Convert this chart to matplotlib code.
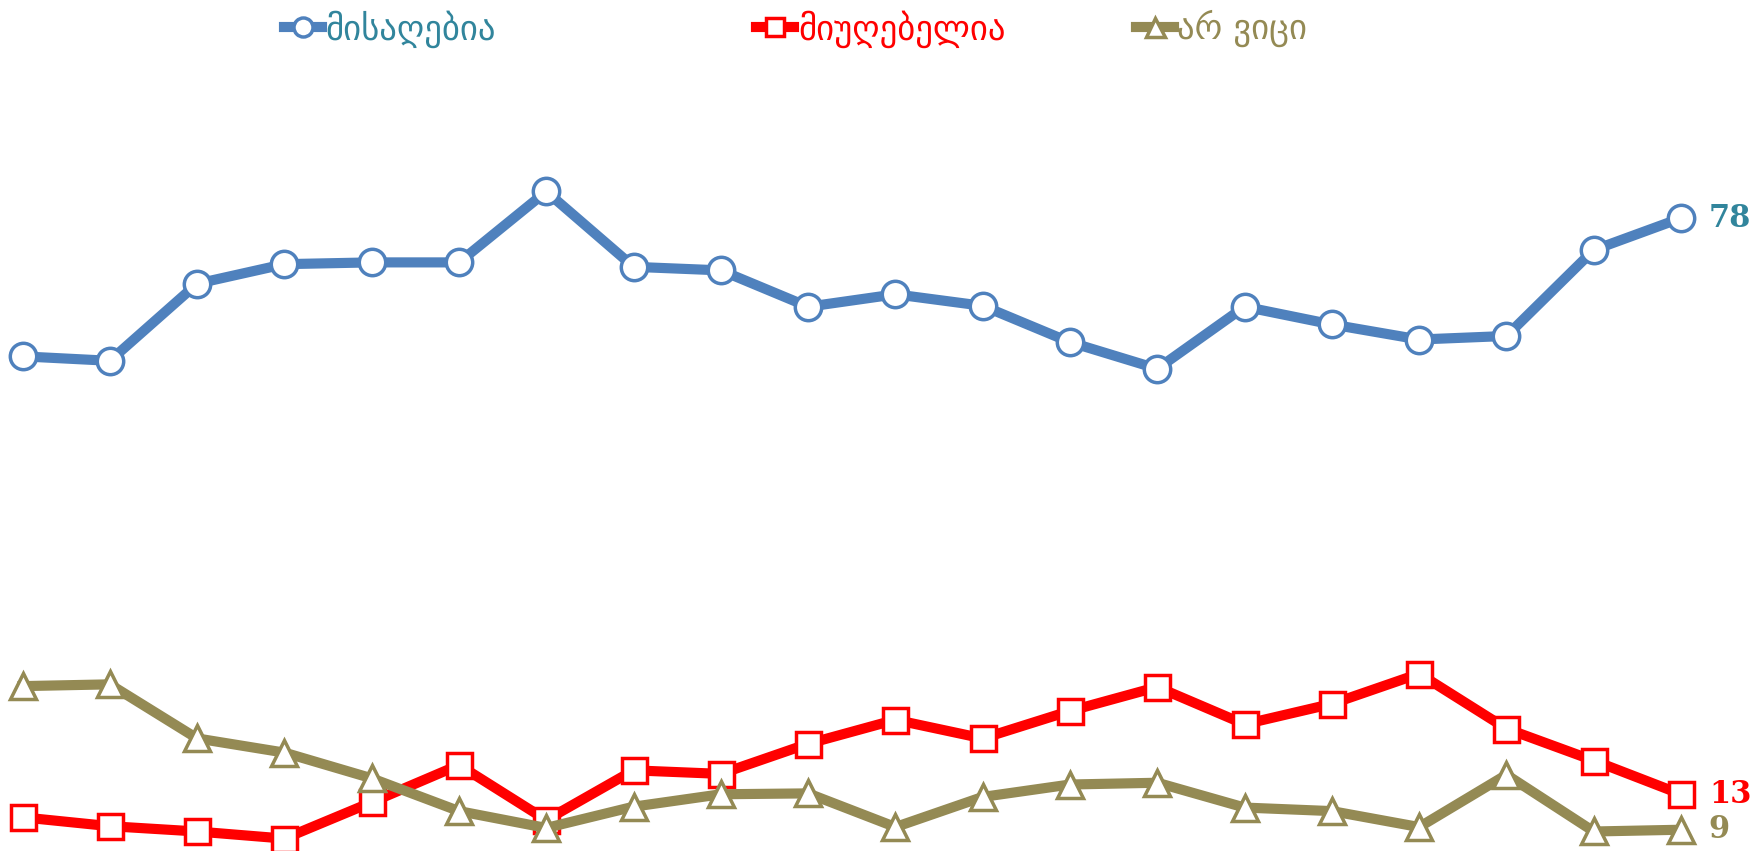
import matplotlib
matplotlib.use("Agg")
from matplotlib import pyplot as plt

# survey waves (20 points), values in percent
waves = list(range(20))
acceptable = [62.4, 61.9, 70.6, 72.8, 73.0, 73.0, 81.0, 72.5, 72.1, 68.0,
              69.4, 68.1, 64.0, 61.0, 68.0, 66.0, 64.3, 64.7, 74.4, 78]
unacceptable = [10.4, 9.4, 8.8, 8.0, 12.1, 16.3, 10.1, 15.7, 15.3, 18.7,
                21.4, 19.3, 22.4, 25.1, 20.9, 23.2, 26.6, 20.4, 16.8, 13]
dont_know = [25.2, 25.4, 19.3, 17.7, 14.8, 11.1, 9.2, 11.6, 13.0, 13.1,
             9.3, 12.7, 14.1, 14.3, 11.5, 11.1, 9.3, 15.2, 8.8, 9]

names = ['მისაღებია', 'მიუღებელია', 'არ ვიცი']
line_colors = ['#4F81BD', '#FF0000', '#948A54']
text_colors = ['#31859C', '#FF0000', '#948A54']
markers = ['o', 's', '^']
series = [acceptable, unacceptable, dont_know]

fig = plt.figure(figsize=(17.64, 8.51), dpi=100)
ax = fig.add_axes([0, 0, 1, 1])
ax.set_xlim(-0.258, 19.95)
ax.set_ylim(6.6, 102.6)
ax.axis('off')

lines = []
for vals, lc, mk in zip(series, line_colors, markers):
    ms = 19 if mk != 's' else 18
    ln, = ax.plot(waves, vals, '-', color=lc, lw=7.3, marker=mk, ms=ms,
                  mfc='white', mec=lc, mew=2.5, zorder=3, clip_on=False)
    lines.append(ln)

# end labels
for vals, tc in zip(series, text_colors):
    ax.annotate(str(int(vals[-1])), (waves[-1], vals[-1]), xytext=(20, 0),
                textcoords='offset points', va='center', ha='left',
                fontsize=22, fontweight='bold', family='DejaVu Serif', color=tc)

# legend, three separate pieces along the top
leg_x = [0.143, 0.411, 0.626]
for ln, name, tc, lx in zip(lines, names, text_colors, leg_x):
    leg = fig.legend([ln], [name], loc='upper left', bbox_to_anchor=(lx, 1.025),
                     frameon=False, fontsize=25, handlelength=1.1,
                     handletextpad=0.1, markerscale=0.72)
    for t in leg.get_texts():
        t.set_color(tc)

fig.savefig('out.png', dpi=100)
